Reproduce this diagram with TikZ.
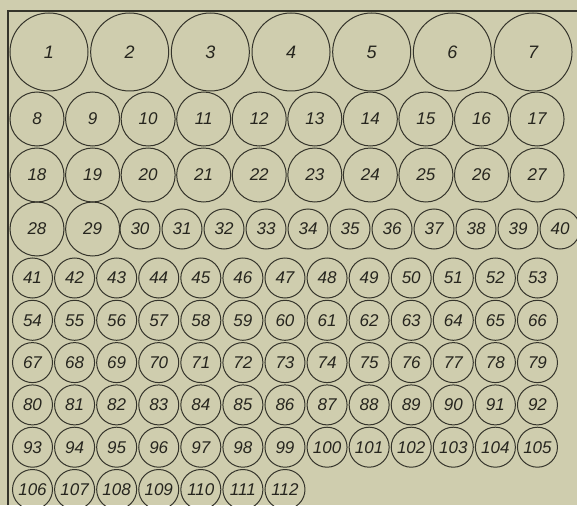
\documentclass[tikz,border=0pt]{standalone}
\usepackage{fontspec}
\setmainfont{Liberation Sans}
\definecolor{paper}{HTML}{CFCDAE}
\definecolor{ink}{HTML}{35342B}
\definecolor{textink}{HTML}{26251E}
\tikzset{
  ball/.style={circle, draw=ink, line width=1pt, inner sep=0pt, text=textink,
    font=\itshape\fontsize{17}{17}\selectfont},
  bigball/.style={ball, minimum size=78pt, font=\itshape\fontsize{18}{18}\selectfont},
  midball/.style={ball, minimum size=54pt},
  smallball/.style={ball, minimum size=40pt},
  frameline/.style={draw=ink, line width=1.3pt}
}
\begin{document}
\begin{tikzpicture}[x=1pt, y=-1pt]
  \useasboundingbox (0,0) rectangle (577,505);
  \fill[paper] (0,0) rectangle (577,505);
  % frame
  \coordinate (fbl) at (8,505);
  \coordinate (ftl) at (8,11);
  \coordinate (ftr) at (577,11);
  \draw[frameline] (fbl) -- (ftl) -- (ftr);
  % row 1
  \foreach \i in {0,...,6} {
    \pgfmathtruncatemacro\n{\i+1}
    \node[bigball] (c\n) at ({49+80.67*\i},52) {\n};
  }
  % rows 2-3
  \foreach \r in {0,1} {
    \foreach \i in {0,...,9} {
      \pgfmathtruncatemacro\n{8+10*\r+\i}
      \node[midball] (c\n) at ({37+55.56*\i},{119+56*\r}) {\n};
    }
  }
  % row 4
  \node[midball] (c28) at (37,229) {28};
  \node[midball] (c29) at (92.6,229) {29};
  \foreach \i in {0,...,10} {
    \pgfmathtruncatemacro\n{30+\i}
    \node[smallball] (c\n) at ({140+42*\i},229) {\n};
  }
  % rows 5 onwards
  \foreach \n in {41,...,112} {
    \pgfmathtruncatemacro\r{(\n-41)/13}
    \pgfmathtruncatemacro\i{\n-41-13*\r}
    \node[smallball] (c\n) at ({32.5+42.08*\i},{278+42.3*\r}) {\n};
  }
\end{tikzpicture}
\end{document}
